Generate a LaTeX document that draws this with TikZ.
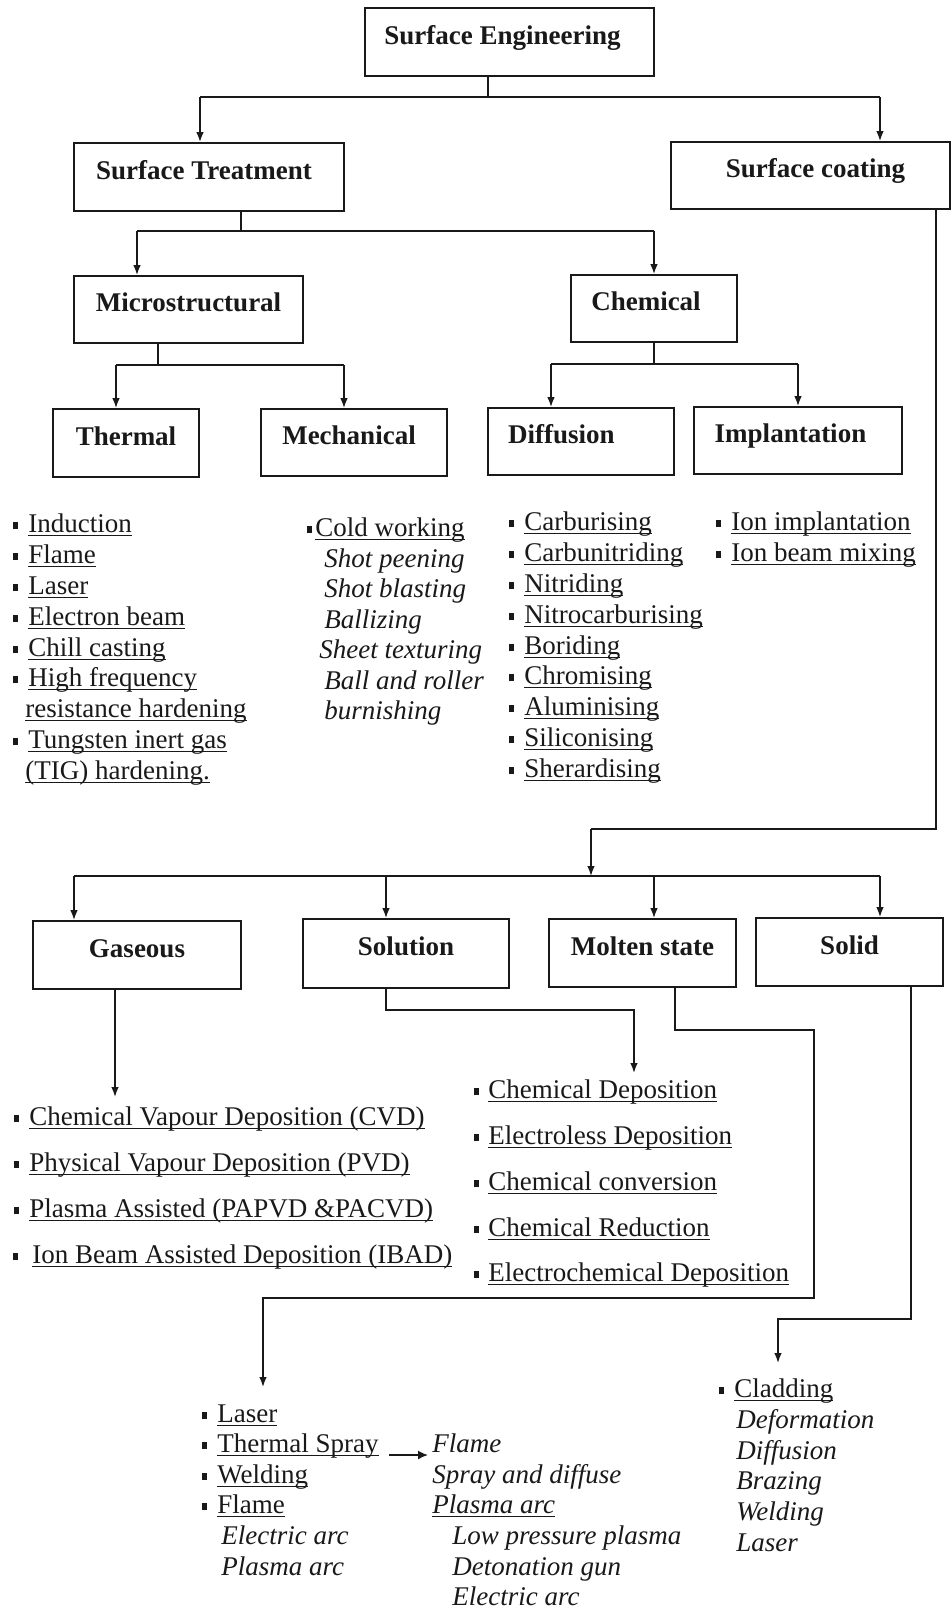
\documentclass[tikz,border=0pt]{standalone}
\usepackage{fontspec}
\setmainfont{Liberation Serif}
\usetikzlibrary{arrows.meta,calc}

\definecolor{ink}{gray}{0.1}
\newcommand\fsz{\fontsize{13.5pt}{16pt}\selectfont}
\newlength\undlw
% underline at a fixed depth, running through descenders
\newcommand\undl[1]{\settowidth\undlw{#1}\makebox[0pt][l]{\rule[-2pt]{\undlw}{0.6pt}}#1}
% square bullet hanging to the left of the item text
\newcommand\blt[1][5.2pt]{\llap{\rule[1.3pt]{2.7pt}{3.5pt}\hspace{#1}}}

\tikzset{
  box/.style={draw=ink, line width=0.9pt, font=\bfseries\fsz, text=ink,
    text height=9pt, text depth=7pt, inner sep=0pt},
  item/.style={anchor=base west, inner sep=0pt, font=\fsz, text=ink},
  ital/.style={item, font=\fsz\itshape},
  ln/.style={draw=ink, line width=0.8pt},
  arr/.style={ln, -{Latex[length=5pt,width=3.8pt]}},
}

\begin{document}
\begin{tikzpicture}[x=0.5pt, y=-0.5pt]
\fill[white] (0,0) rectangle (951,1612);
\useasboundingbox (0,0) rectangle (951,1612);

% ---------- boxes ----------
\node[box, minimum width=144.5pt, minimum height=34pt] (se) at (509.5,42) {Surface Engineering\hspace*{7pt}};
\node[box, minimum width=135pt, minimum height=34pt] (st) at (209,177) {Surface Treatment\hspace*{5pt}};
\node[box, minimum width=139.5pt, minimum height=33.5pt] (sc) at (810.5,175.5) {\hspace*{5pt}Surface coating};
\node[box, minimum width=114.5pt, minimum height=33.5pt] (mic) at (188.5,309.5) {Microstructural};
\node[box, minimum width=83pt, minimum height=33.5pt] (che) at (654,308.5) {Chemical\hspace*{8pt}};
\node[box, minimum width=73pt, minimum height=34pt] (the) at (126,443) {Thermal};
\node[box, minimum width=93pt, minimum height=33.5pt] (mec) at (354,442.5) {Mechanical\hspace*{5pt}};
\node[box, minimum width=93pt, minimum height=33.5pt] (dif) at (581,441.5) {Diffusion\hspace*{19.5pt}};
\node[box, minimum width=104pt, minimum height=33.5pt] (imp) at (798,440.5) {Implantation\hspace*{7.5pt}};
\node[box, minimum width=104pt, minimum height=34pt] (gas) at (137,955) {Gaseous};
\node[box, minimum width=103pt, minimum height=34.5pt] (sol) at (406,953.5) {Solution};
\node[box, minimum width=93.5pt, minimum height=34pt] (mol) at (642.5,953) {Molten state};
\node[box, minimum width=93.5pt, minimum height=34pt] (sold) at (849.5,952) {Solid};

% ---------- tree connectors ----------
\coordinate (j0) at (488,97);  \coordinate (j0l) at (200,97);  \coordinate (j0r) at (880,97);
\draw[ln] (se.south -| j0) -- (j0);
\draw[ln] (j0l) -- (j0r);
\draw[arr] (j0l) -- (j0l |- st.north);
\draw[arr] (j0r) -- (j0r |- sc.north);

\coordinate (j1) at (241,231); \coordinate (j1l) at (137,231); \coordinate (j1r) at (654,231);
\draw[ln] (st.south -| j1) -- (j1);
\draw[ln] (j1l) -- (j1r);
\draw[arr] (j1l) -- (j1l |- mic.north);
\draw[arr] (j1r) -- (j1r |- che.north);

\coordinate (j2) at (158,365); \coordinate (j2l) at (116,365); \coordinate (j2r) at (344,365);
\draw[ln] (mic.south -| j2) -- (j2);
\draw[ln] (j2l) -- (j2r);
\draw[arr] (j2l) -- (j2l |- the.north);
\draw[arr] (j2r) -- (j2r |- mec.north);

\coordinate (j3) at (654,364); \coordinate (j3l) at (551,364); \coordinate (j3r) at (798,364);
\draw[ln] (che.south -| j3) -- (j3);
\draw[ln] (j3l) -- (j3r);
\draw[arr] (j3l) -- (j3l |- dif.north);
\draw[arr] (j3r) -- (j3r |- imp.north);

\coordinate (c1) at (936,829); \coordinate (c2) at (591,829); \coordinate (c3) at (591,876);
\draw[ln] (sc.south -| c1) -- (c1) -- (c2);
\draw[arr] (c2) -- (c3);
\coordinate (k0l) at (74,876); \coordinate (k0r) at (880,876);
\coordinate (k1) at (386,876); \coordinate (k2) at (654,876);
\draw[ln] (k0l) -- (k0r);
\draw[arr] (k0l) -- (k0l |- gas.north);
\draw[arr] (k1) -- (k1 |- sol.north);
\draw[arr] (k2) -- (k2 |- mol.north);
\draw[arr] (k0r) -- (k0r |- sold.north);

\coordinate (g1) at (115,1097);
\draw[arr] (gas.south -| g1) -- (g1);

\coordinate (s1) at (386,1010); \coordinate (s2) at (634,1010); \coordinate (s3) at (634,1073);
\draw[arr] (sol.south -| s1) -- (s1) -- (s2) -- (s3);

\coordinate (m1) at (675,1030); \coordinate (m2) at (814,1030); \coordinate (m3) at (814,1298);
\coordinate (m4) at (263,1298); \coordinate (m5) at (263,1387);
\draw[arr] (mol.south -| m1) -- (m1) -- (m2) -- (m3) -- (m4) -- (m5);

\coordinate (d1) at (911,1319); \coordinate (d2) at (778,1319); \coordinate (d3) at (778,1363);
\draw[arr] (sold.south -| d1) -- (d1) -- (d2) -- (d3);

% ---------- thermal treatments ----------
\node[item] (th1) at (28,532) {\blt\undl{Induction}};
\node[item] (th2) at (28,563) {\blt\undl{Flame}};
\node[item] (th3) at (28,594) {\blt\undl{Laser}};
\node[item] (th4) at (28,625) {\blt\undl{Electron beam}};
\node[item] (th5) at (28,656) {\blt\undl{Chill casting}};
\node[item] (th6) at (28,686) {\blt\undl{High frequency}};
\node[item] (th7) at (25,717) {\undl{resistance hardening}};
\node[item] (th8) at (28,748) {\blt\undl{Tungsten inert gas}};
\node[item] (th9) at (25,779) {\undl{(TIG) hardening.}};

% ---------- mechanical treatments ----------
\node[item] (me1) at (315,536) {\blt[1.5pt]\undl{Cold working}};
\node[ital] (me2) at (324,567) {Shot peening};
\node[ital] (me3) at (324,597) {Shot blasting};
\node[ital] (me4) at (324,628) {Ballizing};
\node[ital] (me5) at (319,658) {Sheet texturing};
\node[ital] (me6) at (324,689) {Ball and roller};
\node[ital] (me7) at (324,719) {burnishing};

% ---------- diffusion treatments ----------
\node[item] (di1) at (524,530) {\blt\undl{Carburising}};
\node[item] (di2) at (524,561) {\blt\undl{Carbunitriding}};
\node[item] (di3) at (524,592) {\blt\undl{Nitriding}};
\node[item] (di4) at (524,623) {\blt\undl{Nitrocarburising}};
\node[item] (di5) at (524,654) {\blt\undl{Boriding}};
\node[item] (di6) at (524,684) {\blt\undl{Chromising}};
\node[item] (di7) at (524,715) {\blt\undl{Aluminising}};
\node[item] (di8) at (524,746) {\blt\undl{Siliconising}};
\node[item] (di9) at (524,777) {\blt\undl{Sherardising}};

% ---------- implantation ----------
\node[item] (im1) at (731,530) {\blt\undl{Ion implantation}};
\node[item] (im2) at (731,561) {\blt\undl{Ion beam mixing}};

% ---------- gaseous coatings ----------
\node[item] (ga1) at (29,1125) {\blt\undl{Chemical Vapour Deposition (CVD)}};
\node[item] (ga2) at (29,1171) {\blt\undl{Physical Vapour Deposition (PVD)}};
\node[item] (ga3) at (29,1217) {\blt\undl{Plasma Assisted (PAPVD \&PACVD)}};
\node[item] (ga4) at (32,1263) {\blt[7pt]\undl{Ion Beam Assisted Deposition (IBAD)}};

% ---------- solution coatings ----------
\node[item] (so1) at (488,1098) {\blt[4.5pt]\undl{Chemical Deposition}};
\node[item] (so2) at (488,1144) {\blt[4.5pt]\undl{Electroless Deposition}};
\node[item] (so3) at (488,1190) {\blt[4.5pt]\undl{Chemical conversion}};
\node[item] (so4) at (488,1236) {\blt[4.5pt]\undl{Chemical Reduction}};
\node[item] (so5) at (488,1281) {\blt[4.5pt]\undl{Electrochemical Deposition}};

% ---------- molten state coatings ----------
\node[item] (mo1) at (217,1422) {\blt\undl{Laser}};
\node[item] (mo2) at (217,1452) {\blt\undl{Thermal Spray}};
\node[item] (mo3) at (217,1483) {\blt\undl{Welding}};
\node[item] (mo4) at (217,1513) {\blt\undl{Flame}};
\node[ital] (mo5) at (221,1544) {Electric arc};
\node[ital] (mo6) at (221,1575) {Plasma arc};

\node[ital] (ts1) at (432,1452) {Flame};
\node[ital] (ts2) at (432,1483) {Spray and diffuse};
\node[ital] (ts3) at (432,1513) {\undl{Plasma arc}};
\node[ital] (ts4) at (452,1544) {Low pressure plasma};
\node[ital] (ts5) at (452,1575) {Detonation gun};
\node[ital] (ts6) at (452,1605) {Electric arc};

\draw[ln, -{Latex[length=5pt,width=4.5pt]}] ($(mo2.base east)+(5pt,-1.5pt)$) -- ($(ts1.base west)+(-2pt,-1.5pt)$);

% ---------- solid state coatings ----------
\node[item] (cl1) at (734,1397) {\blt\undl{Cladding}};
\node[ital] (cl2) at (736,1428) {Deformation};
\node[ital] (cl3) at (736,1459) {Diffusion};
\node[ital] (cl4) at (736,1489) {Brazing};
\node[ital] (cl5) at (736,1520) {Welding};
\node[ital] (cl6) at (736,1551) {Laser};

\end{tikzpicture}
\end{document}
